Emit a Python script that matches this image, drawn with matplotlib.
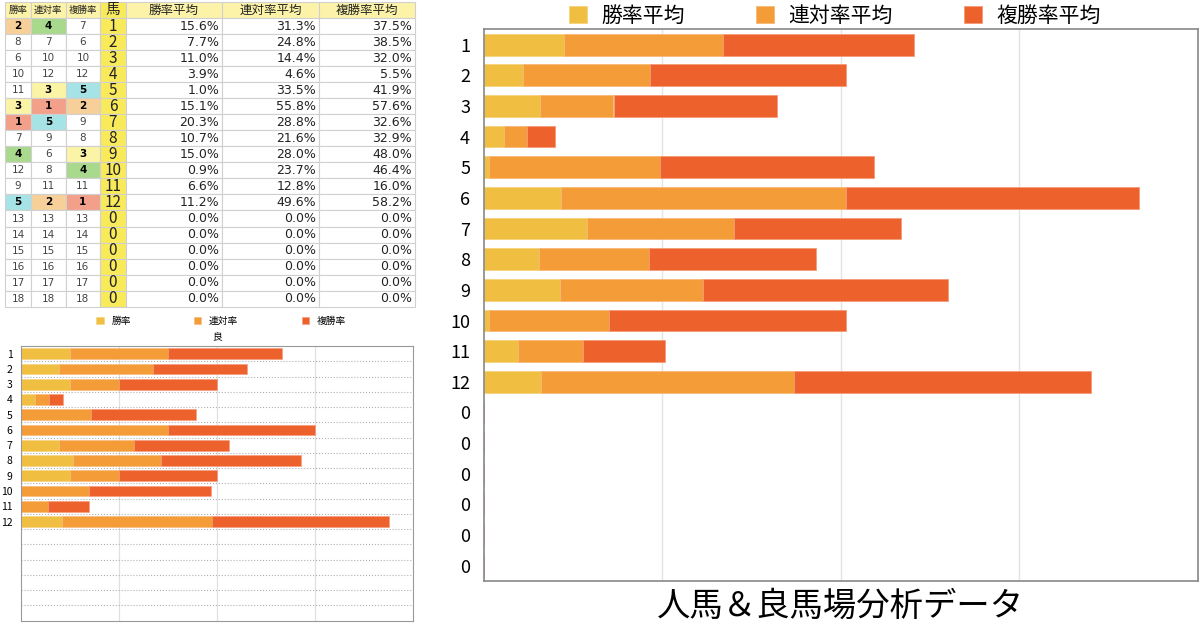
import matplotlib
matplotlib.use("Agg")
import matplotlib.pyplot as plt
import numpy as np

plt.rcParams['font.family'] = ['Noto Sans CJK JP', 'DejaVu Sans']

# 全体データ（表と右のグラフ）
horses = ["1", "2", "3", "4", "5", "6", "7", "8", "9", "10", "11", "12",
          "0", "0", "0", "0", "0", "0"]
win_avg = [15.6, 7.7, 11.0, 3.9, 1.0, 15.1, 20.3, 10.7, 15.0, 0.9, 6.6, 11.2, 0, 0, 0, 0, 0, 0]
ren_avg = [31.3, 24.8, 14.4, 4.6, 33.5, 55.8, 28.8, 21.6, 28.0, 23.7, 12.8, 49.6, 0, 0, 0, 0, 0, 0]
fuku_avg = [37.5, 38.5, 32.0, 5.5, 41.9, 57.6, 32.6, 32.9, 48.0, 46.4, 16.0, 58.2, 0, 0, 0, 0, 0, 0]
win_rank = [2, 8, 6, 10, 11, 3, 1, 7, 4, 12, 9, 5, 13, 14, 15, 16, 17, 18]
ren_rank = [4, 7, 10, 12, 3, 1, 5, 9, 6, 8, 11, 2, 13, 14, 15, 16, 17, 18]
fuku_rank = [7, 6, 10, 12, 5, 2, 9, 8, 3, 4, 11, 1, 13, 14, 15, 16, 17, 18]
header = ["勝率", "連対率", "複勝率", "馬", "勝率平均", "連対率平均", "複勝率平均"]

# 良馬場データ（左下のグラフ、目測）
good_labels = ["1", "2", "3", "4", "5", "6", "7", "8", "9", "10", "11", "12",
               "", "", "", "", "", ""]
good_win = [12.5, 9.6, 12.5, 3.6, 0.0, 0.0, 9.6, 13.3, 12.5, 0.0, 0.0, 10.4, 0, 0, 0, 0, 0, 0]
good_ren = [25.0, 24.0, 12.5, 3.6, 17.8, 37.5, 19.2, 22.4, 12.5, 17.3, 7.0, 38.2, 0, 0, 0, 0, 0, 0]
good_fuku = [29.1, 24.1, 25.0, 3.5, 26.8, 37.4, 24.1, 35.6, 24.9, 31.2, 10.3, 45.1, 0, 0, 0, 0, 0, 0]

c_win, c_ren, c_fuku = "#f0be41", "#f39c38", "#ec612c"
e_win, e_ren, e_fuku = "#f6d27a", "#f7b877", "#f59a78"
rank_colors = {1: "#f2a08a", 2: "#f7cf99", 3: "#fbf4a6", 4: "#a9d98d", 5: "#a6e3e6"}

fig = plt.figure(figsize=(12, 6.23), dpi=100)

# ---- 表 ----
ax_t = fig.add_axes([0.0042, 0.5077, 0.3417, 0.489])
ax_t.axis("off")
cell_text = []
cell_colors = []
for i in range(len(horses)):
    cell_text.append([str(win_rank[i]), str(ren_rank[i]), str(fuku_rank[i]), horses[i],
                      f"{win_avg[i]:.1f}%", f"{ren_avg[i]:.1f}%", f"{fuku_avg[i]:.1f}%"])
    row_c = [rank_colors.get(r, "white") for r in (win_rank[i], ren_rank[i], fuku_rank[i])]
    cell_colors.append(row_c + ["#f9ea5c", "white", "white", "white"])
col_w = np.array([26, 34.7, 34.3, 25.7, 96.3, 97, 96])
tbl = ax_t.table(cellText=cell_text, colLabels=header, cellColours=cell_colors,
                 colColours=["#fcf3a9"] * 3 + ["#f9ea5c"] + ["#fcf3a9"] * 3,
                 colWidths=list(col_w / col_w.sum()), bbox=[0, 0, 1, 1])
tbl.auto_set_font_size(False)
for (r, c), cell in tbl.get_celld().items():
    cell.set_edgecolor("#d0d0d0")
    cell.set_linewidth(0.8)
    cell.PAD = 0.03
    txt = cell.get_text()
    txt.set_color("#222222")
    if r == 0:
        txt.set_fontsize(6.8 if c < 3 else (10.5 if c == 3 else 9))
        txt.set_horizontalalignment("center")
    elif c < 3:
        rank = [win_rank, ren_rank, fuku_rank][c][r - 1]
        txt.set_fontsize(7.5)
        txt.set_family("DejaVu Sans")
        txt.set_horizontalalignment("center")
        if rank <= 5:
            txt.set_fontweight("bold")
            txt.set_color("black")
        else:
            txt.set_color("#444444")
    elif c == 3:
        txt.set_fontsize(11)
        txt.set_horizontalalignment("center")
    else:
        txt.set_fontsize(9)
        txt.set_family("DejaVu Sans")
        txt.set_horizontalalignment("right")

# ---- 左下: 良馬場 ----
ax_s = fig.add_axes([0.0175, 0.0037, 0.3269, 0.4409])
ys = np.arange(len(good_labels))
ax_s.barh(ys, good_win, height=0.7, color=c_win, edgecolor=e_win, linewidth=0.4, label="勝率")
ax_s.barh(ys, good_ren, left=good_win, height=0.7, color=c_ren, edgecolor=e_ren,
          linewidth=0.4, label="連対率")
ax_s.barh(ys, good_fuku, left=np.add(good_win, good_ren), height=0.7, color=c_fuku,
          edgecolor=e_fuku, linewidth=0.4, label="複勝率")
ax_s.set_xlim(0, 100)
ax_s.set_ylim(len(good_labels) - 0.5, -0.5)
ax_s.set_xticks([25, 50, 75])
ax_s.set_xticklabels([])
ax_s.set_yticks(ys)
ax_s.set_yticklabels(good_labels, fontsize=7.5)
ax_s.set_yticks(np.arange(0.5, len(good_labels) - 0.5, 1), minor=True)
ax_s.tick_params(axis="both", which="both", length=0)
ax_s.tick_params(axis="y", pad=6)
ax_s.grid(axis="x", color="#e0e0e0", linewidth=0.9)
ax_s.grid(axis="y", which="minor", color="#b0b0b0", linestyle=":", linewidth=0.8)
ax_s.set_axisbelow(True)
for sp in ax_s.spines.values():
    sp.set_color("#999999")
ax_s.legend(loc="center", bbox_to_anchor=(0.51, 1.091), ncol=3, frameon=False, fontsize=7,
            handlelength=0.75, handleheight=0.75, handletextpad=0.8, columnspacing=6.5,
            borderaxespad=0)
ax_s.text(0.5, 1.037, "良", transform=ax_s.transAxes, ha="center", va="center", fontsize=7)

# ---- 右: 人馬データ ----
ax = fig.add_axes([0.4033, 0.0674, 0.595, 0.8855])
y = np.arange(len(horses))
ax.barh(y, win_avg, height=0.71, color=c_win, edgecolor=e_win, linewidth=0.6, label="勝率平均")
ax.barh(y, ren_avg, left=win_avg, height=0.71, color=c_ren, edgecolor=e_ren, linewidth=0.6,
        label="連対率平均")
ax.barh(y, fuku_avg, left=np.add(win_avg, ren_avg), height=0.71, color=c_fuku,
        edgecolor=e_fuku, linewidth=0.6, label="複勝率平均")
ax.set_xlim(0, 140)
ax.set_ylim(len(horses) - 0.5, -0.5)
ax.set_xticks([35, 70, 105])
ax.set_xticklabels([])
ax.set_yticks(y)
ax.set_yticklabels(horses, fontsize=13)
ax.tick_params(axis="both", length=0)
ax.tick_params(axis="y", pad=10)
ax.grid(axis="x", color="#e3e3e3", linewidth=1)
ax.set_axisbelow(True)
for sp in ax.spines.values():
    sp.set_color("#888888")
    sp.set_linewidth(1.2)
ax.legend(loc="center", bbox_to_anchor=(0.4916, 1.024), ncol=3, frameon=False, fontsize=15,
          handlelength=0.87, handleheight=0.87, handletextpad=0.7, columnspacing=3.4,
          borderaxespad=0)
ax.text(0.5, -0.045, "人馬＆良馬場分析データ", transform=ax.transAxes, ha="center",
        va="center", fontsize=24)

fig.savefig("out.png", dpi=100)
